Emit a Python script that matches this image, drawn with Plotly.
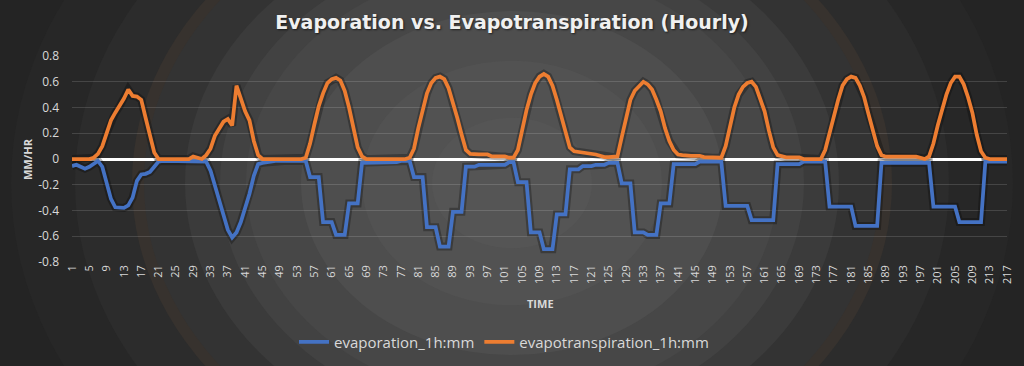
import plotly.graph_objects as go

# ---------------- data ----------------
hours = list(range(1, 218))

evaporation = [
    -0.055, -0.045, -0.06, -0.075, -0.06, -0.035, -0.015, -0.06, -0.19, -0.31, -0.375, -0.38,
    -0.38, -0.36, -0.30, -0.17, -0.12, -0.115, -0.10, -0.06, -0.02, -0.015, -0.015, -0.015,
    -0.015, -0.015, -0.015, -0.015, -0.015, -0.015, -0.02, -0.02, -0.09, -0.21, -0.32, -0.44,
    -0.55, -0.61, -0.57, -0.49, -0.38, -0.27, -0.13, -0.04, -0.03, -0.025, -0.015, -0.015,
    -0.015, -0.015, -0.015, -0.015, -0.015, -0.015, -0.015, -0.14, -0.14, -0.14, -0.49, -0.49,
    -0.49, -0.59, -0.59, -0.59, -0.345, -0.345, -0.345, -0.03, -0.03, -0.03, -0.03, -0.03,
    -0.03, -0.025, -0.025, -0.025, -0.015, -0.015, -0.015, -0.14, -0.14, -0.14, -0.53, -0.53,
    -0.53, -0.68, -0.68, -0.68, -0.41, -0.41, -0.41, -0.06, -0.06, -0.06, -0.045, -0.045,
    -0.045, -0.045, -0.045, -0.045, -0.045, -0.025, -0.025, -0.18, -0.18, -0.18, -0.57, -0.57,
    -0.57, -0.70, -0.70, -0.70, -0.43, -0.43, -0.43, -0.08, -0.08, -0.08, -0.055, -0.055,
    -0.055, -0.045, -0.045, -0.045, -0.03, -0.03, -0.03, -0.19, -0.19, -0.19, -0.57, -0.57,
    -0.57, -0.59, -0.59, -0.59, -0.345, -0.345, -0.345, -0.04, -0.04, -0.04, -0.04, -0.04,
    -0.04, -0.02, -0.02, -0.02, -0.02, -0.02, -0.02, -0.365, -0.365, -0.365, -0.365, -0.365,
    -0.365, -0.475, -0.475, -0.475, -0.475, -0.475, -0.475, -0.04, -0.04, -0.04, -0.04, -0.04,
    -0.04, -0.02, -0.02, -0.02, -0.02, -0.02, -0.02, -0.37, -0.37, -0.37, -0.37, -0.37,
    -0.37, -0.52, -0.52, -0.52, -0.52, -0.52, -0.52, -0.03, -0.03, -0.03, -0.03, -0.03,
    -0.03, -0.03, -0.03, -0.03, -0.03, -0.03, -0.03, -0.37, -0.37, -0.37, -0.37, -0.37,
    -0.37, -0.49, -0.49, -0.49, -0.49, -0.49, -0.49, -0.02, -0.02, -0.02, -0.02, -0.02,
    -0.02,
]

evapotranspiration = [
    0.0, 0.0, 0.0, 0.0, 0.0, 0.01, 0.04, 0.10, 0.20, 0.30, 0.36, 0.41,
    0.47, 0.54, 0.49, 0.485, 0.46, 0.32, 0.17, 0.05, 0.0, 0.0, 0.0, 0.0,
    0.0, 0.0, 0.0, 0.0, 0.02, 0.01, 0.0, 0.03, 0.08, 0.18, 0.24, 0.29,
    0.31, 0.26, 0.57, 0.46, 0.37, 0.30, 0.14, 0.03, 0.0, 0.0, 0.0, 0.0,
    0.0, 0.0, 0.0, 0.0, 0.0, 0.0, 0.01, 0.12, 0.27, 0.41, 0.51, 0.59,
    0.62, 0.63, 0.61, 0.53, 0.40, 0.23, 0.09, 0.02, 0.0, 0.0, 0.0, 0.0,
    0.0, 0.0, 0.0, 0.0, 0.0, 0.0, 0.01, 0.08, 0.24, 0.39, 0.51, 0.59,
    0.63, 0.64, 0.62, 0.55, 0.44, 0.32, 0.19, 0.07, 0.04, 0.035, 0.035, 0.035,
    0.035, 0.02, 0.02, 0.02, 0.02, 0.01, 0.01, 0.07, 0.23, 0.38, 0.50, 0.59,
    0.64, 0.66, 0.64, 0.57, 0.46, 0.33, 0.20, 0.09, 0.06, 0.055, 0.05, 0.05,
    0.045, 0.035, 0.025, 0.015, 0.015, 0.015, 0.02, 0.17, 0.33, 0.46, 0.53, 0.57,
    0.60, 0.58, 0.54, 0.46, 0.37, 0.24, 0.14, 0.07, 0.035, 0.03, 0.025, 0.025,
    0.025, 0.025, 0.015, 0.015, 0.01, 0.01, 0.01, 0.10, 0.26, 0.40, 0.50, 0.56,
    0.59, 0.60, 0.56, 0.47, 0.37, 0.22, 0.09, 0.03, 0.018, 0.013, 0.013, 0.013,
    0.013, 0.0, 0.0, 0.0, 0.0, 0.0, 0.07, 0.20, 0.34, 0.46, 0.57, 0.62,
    0.64, 0.63, 0.57, 0.48, 0.35, 0.23, 0.10, 0.03, 0.018, 0.018, 0.018, 0.018,
    0.018, 0.018, 0.018, 0.018, 0.01, 0.0, 0.02, 0.12, 0.26, 0.38, 0.50, 0.59,
    0.64, 0.64, 0.58, 0.48, 0.36, 0.19, 0.06, 0.01, 0.0, 0.0, 0.0, 0.0,
    0.0,
]

x_tick_values = list(range(1, 218, 4))
x_tick_labels = [str(v) for v in x_tick_values]
y_tick_values = [-0.8, -0.6, -0.4, -0.2, 0.0, 0.2, 0.4, 0.6, 0.8]
y_tick_labels = ["-0.8", "-0.6", "-0.4", "-0.2", "0", "0.2", "0.4", "0.6", "0.8"]

# ---------------- layout geometry (pixels) ----------------
W, H = 1024, 366
ML, MR, MT, MB = 72, 17, 56, 104
PW, PH = W - ML - MR, H - MT - MB


def px_to_paper_x(px):
    return (px - ML) / PW


def px_to_paper_y(py):
    return (H - MB - py) / PH


# background rings (radial banded gradient)
CX, CY, RATIO = 512, 183, 1.226
rings = [
    (620, "#242424"),
    (501, "#272727"),
    (437, "#2c2c2c"),
    (380, "#37322e"),
    (368, "#333333"),
    (327, "#3b3b3b"),
    (292, "#424242"),
    (266, "#474747"),
    (211, "#4e4e4e"),
    (150, "#525252"),
    (80, "#555555"),
]
shapes = []
for a, col in rings:
    b = a / RATIO
    shapes.append(dict(
        type="circle", xref="paper", yref="paper", layer="below",
        x0=px_to_paper_x(CX - a), x1=px_to_paper_x(CX + a),
        y0=px_to_paper_y(CY + b), y1=px_to_paper_y(CY - b),
        fillcolor=col, line=dict(width=0),
    ))

fig = go.Figure()

# soft shadows under the lines
for ys in (evaporation, evapotranspiration):
    fig.add_trace(go.Scatter(
        x=hours, y=ys, mode="lines", showlegend=False, hoverinfo="skip",
        line=dict(color="rgba(0,0,0,0.28)", width=8),
    ))

fig.add_trace(go.Scatter(
    x=hours, y=evaporation, mode="lines", name="evaporation_1h:mm",
    line=dict(color="#4472C4", width=3.75),
))
fig.add_trace(go.Scatter(
    x=hours, y=evapotranspiration, mode="lines", name="evapotranspiration_1h:mm",
    line=dict(color="#ED7D31", width=3.75),
))

fig.update_layout(
    width=W, height=H,
    margin=dict(l=ML, r=MR, t=MT, b=MB, autoexpand=False),
    paper_bgcolor="#232323",
    plot_bgcolor="rgba(0,0,0,0)",
    shapes=shapes,
    title=dict(
        text="Evaporation vs. Evapotranspiration (Hourly)",
        x=0.5, xanchor="center", xref="container",
        y=1 - 22 / H, yanchor="middle", yref="container",
        font=dict(family="DejaVu Sans", size=19, weight="bold", color="#f0f0f0",
                  shadow="1px 1px 2px rgba(0,0,0,0.6)"),
    ),
    font=dict(family="Open Sans", color="#d9d9d9"),
    xaxis=dict(
        range=[1, 217], showgrid=False, zeroline=False, showline=False,
        tickmode="array", tickvals=x_tick_values, ticktext=x_tick_labels,
        tickangle=-90, tickfont=dict(size=11, color="#d9d9d9"), ticks="",
    ),
    yaxis=dict(
        range=[-0.8, 0.8], tickmode="array", tickvals=y_tick_values, ticktext=y_tick_labels,
        showgrid=True, gridcolor="rgba(255,255,255,0.14)", gridwidth=1,
        zeroline=True, zerolinecolor="#ffffff", zerolinewidth=3,
        showline=False, ticks="", ticklabelstandoff=12,
        tickfont=dict(size=12, color="#d9d9d9"),
    ),
    legend=dict(
        orientation="h", x=0.5 - 8 / W, xanchor="center", xref="container",
        y=px_to_paper_y(342), yanchor="middle",
        font=dict(size=15, color="#d9d9d9"), bgcolor="rgba(0,0,0,0)",
    ),
    annotations=[
        dict(text="<b>TIME</b>", x=px_to_paper_x(540), y=px_to_paper_y(303),
             xref="paper", yref="paper", showarrow=False,
             font=dict(size=11, color="#d9d9d9"), xanchor="center", yanchor="middle"),
        dict(text="<b>MM/HR</b>", x=px_to_paper_x(27), y=0.5,
             xref="paper", yref="paper", showarrow=False, textangle=-90,
             font=dict(size=11, color="#d9d9d9"), xanchor="center", yanchor="middle"),
    ],
)

fig.write_html(
    "out.html",
    config={"displayModeBar": False},
    post_script="document.body.style.margin='0';document.body.style.padding='0';",
)
